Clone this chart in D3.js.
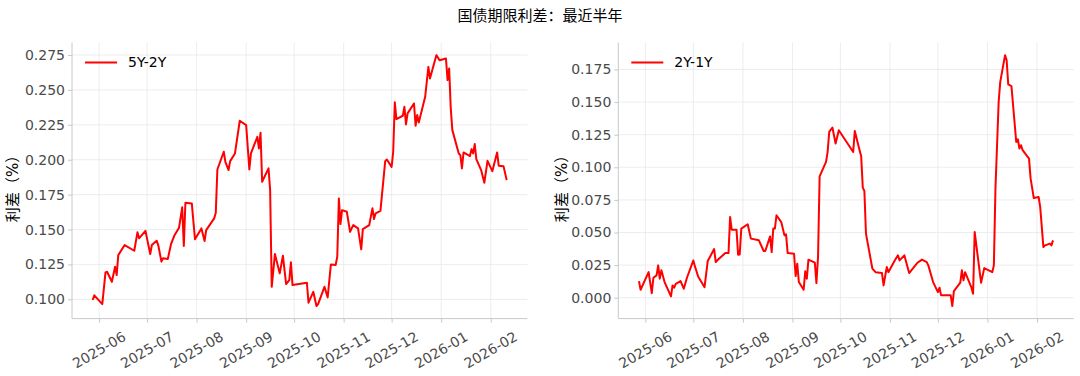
<!DOCTYPE html>
<html lang="zh">
<head>
<meta charset="UTF-8">
<title>国债期限利差：最近半年</title>
<style>
  body { margin: 0; background: #fff; }
  svg text { font-family: "DejaVu Sans", "Noto Sans CJK SC", sans-serif; }
  .grid line { stroke: #e8e8e8; stroke-width: 0.8; }
  .spine { stroke: #c8c8c8; stroke-width: 1; }
  .tick line { stroke: #c8c8c8; }
  .tick-label { fill: #4a4a4a; font-size: 14px; }
</style>
</head>
<body>
<div id="chart"></div>
<script src="https://d3js.org/d3.v7.min.js"></script>
<script>
// 5Y-2Y 利差
const dates5y2y = ["2025-05-28","2025-05-29","2025-06-03","2025-06-05","2025-06-06","2025-06-09","2025-06-11","2025-06-12","2025-06-13","2025-06-17",
  "2025-06-23","2025-06-25","2025-06-26","2025-06-30","2025-07-03","2025-07-04","2025-07-07","2025-07-08","2025-07-10","2025-07-11",
  "2025-07-14","2025-07-16","2025-07-18","2025-07-21","2025-07-23","2025-07-24","2025-07-25","2025-07-29","2025-07-31","2025-08-04",
  "2025-08-06","2025-08-07","2025-08-12","2025-08-13","2025-08-14","2025-08-18","2025-08-19","2025-08-21","2025-08-22","2025-08-25",
  "2025-08-28","2025-09-01","2025-09-03","2025-09-04","2025-09-08","2025-09-09","2025-09-10","2025-09-11","2025-09-15","2025-09-16",
  "2025-09-17","2025-09-19","2025-09-22","2025-09-24","2025-09-26","2025-09-28","2025-09-29","2025-09-30","2025-10-09","2025-10-10",
  "2025-10-13","2025-10-15","2025-10-16","2025-10-20","2025-10-22","2025-10-24","2025-10-27","2025-10-28","2025-10-29","2025-10-30",
  "2025-10-31","2025-11-03","2025-11-05","2025-11-07","2025-11-10","2025-11-12","2025-11-13","2025-11-17","2025-11-19","2025-11-20",
  "2025-11-21","2025-11-24","2025-11-27","2025-11-28","2025-12-01","2025-12-02","2025-12-03","2025-12-04","2025-12-08","2025-12-09",
  "2025-12-10","2025-12-11","2025-12-15","2025-12-16","2025-12-17","2025-12-18","2025-12-22","2025-12-24","2025-12-25","2025-12-29",
  "2025-12-31","2026-01-04","2026-01-05","2026-01-06","2026-01-07","2026-01-08","2026-01-12","2026-01-13","2026-01-14","2026-01-15",
  "2026-01-19","2026-01-20","2026-01-21","2026-01-22","2026-01-23","2026-01-26","2026-01-28","2026-01-30","2026-02-02","2026-02-05",
  "2026-02-06","2026-02-09","2026-02-11"];
const values5y2y = [0.0995,0.1029,0.0966,0.1193,0.1198,0.1126,0.1233,0.1174,0.1317,0.1389,
  0.1348,0.1480,0.1437,0.1491,0.1324,0.1389,0.1420,0.1389,0.1270,0.1294,
  0.1289,0.1396,0.1455,0.1513,0.1659,0.1382,0.1692,0.1687,0.1430,0.1508,
  0.1418,0.1496,0.1580,0.1620,0.1930,0.2057,0.1985,0.1926,0.1990,0.2045,
  0.2279,0.2248,0.1930,0.2045,0.2164,0.2081,0.2193,0.1842,0.1938,0.1783,
  0.1090,0.1324,0.1186,0.1312,0.1110,0.1138,0.1265,0.1102,0.1119,0.0976,
  0.1054,0.0952,0.0966,0.1090,0.1014,0.1250,0.1246,0.1305,0.1723,0.1539,
  0.1639,0.1627,0.1484,0.1532,0.1508,0.1358,0.1503,0.1532,0.1652,0.1575,
  0.1616,0.1634,0.1990,0.2002,0.1949,0.2057,0.2411,0.2291,0.2315,0.2379,
  0.2253,0.2332,0.2403,0.2243,0.2320,0.2267,0.2451,0.2665,0.2582,0.2749,
  0.2713,0.2725,0.2570,0.2654,0.2368,0.2212,0.2045,0.2033,0.1938,0.2052,
  0.2026,0.2076,0.2045,0.2112,0.2004,0.1926,0.1835,0.1992,0.1918,0.2052,
  0.1957,0.1954,0.1854];

// 2Y-1Y 利差
const dates2y1y = ["2025-05-28","2025-05-29","2025-06-03","2025-06-05","2025-06-06","2025-06-08","2025-06-09","2025-06-10","2025-06-11","2025-06-13",
  "2025-06-17","2025-06-18","2025-06-19","2025-06-20","2025-06-23","2025-06-25","2025-06-27","2025-07-01","2025-07-02","2025-07-04",
  "2025-07-08","2025-07-10","2025-07-14","2025-07-15","2025-07-17","2025-07-21","2025-07-23","2025-07-24","2025-07-25","2025-07-28",
  "2025-07-29","2025-07-30","2025-07-31","2025-08-04","2025-08-06","2025-08-11","2025-08-14","2025-08-15","2025-08-18","2025-08-19",
  "2025-08-20","2025-08-21","2025-08-22","2025-08-25","2025-08-27","2025-08-28","2025-08-29","2025-09-02","2025-09-03","2025-09-04",
  "2025-09-05","2025-09-08","2025-09-09","2025-09-10","2025-09-11","2025-09-15","2025-09-16","2025-09-17","2025-09-18","2025-09-22",
  "2025-09-23","2025-09-24","2025-09-26","2025-09-28","2025-09-30","2025-10-09","2025-10-10","2025-10-13","2025-10-14","2025-10-15",
  "2025-10-16","2025-10-17","2025-10-21","2025-10-23","2025-10-27","2025-10-28","2025-10-30","2025-10-31","2025-11-04","2025-11-06",
  "2025-11-07","2025-11-10","2025-11-13","2025-11-18","2025-11-21","2025-11-24","2025-11-25","2025-11-28","2025-12-01","2025-12-02",
  "2025-12-03","2025-12-09","2025-12-10","2025-12-11","2025-12-15","2025-12-16","2025-12-17","2025-12-18","2025-12-22","2025-12-23",
  "2025-12-24","2025-12-28","2025-12-30","2026-01-04","2026-01-05","2026-01-06","2026-01-08","2026-01-09","2026-01-12","2026-01-13",
  "2026-01-14","2026-01-16","2026-01-19","2026-01-20","2026-01-21","2026-01-22","2026-01-23","2026-01-27","2026-01-28","2026-01-30",
  "2026-02-02","2026-02-03","2026-02-05","2026-02-06","2026-02-09","2026-02-10","2026-02-11"];
const values2y1y = [0.0127,0.0061,0.0196,0.0035,0.0153,0.0171,0.0248,0.0146,0.0210,0.0120,
  0.0010,0.0094,0.0077,0.0107,0.0127,0.0069,0.0153,0.0286,0.0240,0.0163,
  0.0081,0.0281,0.0373,0.0273,0.0299,0.0342,0.0342,0.0619,0.0522,0.0522,
  0.0330,0.0332,0.0530,0.0563,0.0453,0.0440,0.0358,0.0358,0.0470,0.0350,
  0.0530,0.0530,0.0632,0.0580,0.0478,0.0486,0.0342,0.0338,0.0166,0.0261,
  0.0120,0.0061,0.0202,0.0146,0.0292,0.0269,0.0112,0.0312,0.0931,0.1041,
  0.1117,0.1271,0.1305,0.1182,0.1284,0.1117,0.1279,0.1131,0.1084,0.0844,
  0.0818,0.0491,0.0223,0.0196,0.0189,0.0094,0.0235,0.0196,0.0286,0.0325,
  0.0286,0.0325,0.0189,0.0266,0.0292,0.0273,0.0248,0.0120,0.0043,0.0077,
  0.0018,0.0018,-0.0064,0.0051,0.0115,0.0210,0.0133,0.0196,0.0077,0.0031,
  0.0504,0.0115,0.0227,0.0196,0.0248,0.0837,0.1501,0.1655,0.1860,0.1821,
  0.1635,0.1622,0.1194,0.1215,0.1144,0.1169,0.1131,0.1067,0.0913,0.0764,
  0.0772,0.0695,0.0388,0.0401,0.0415,0.0401,0.0440];

const monthTicks = ["2025-06","2025-07","2025-08","2025-09","2025-10","2025-11","2025-12","2026-01","2026-02"];
const yTicks5y2y = [0.100,0.125,0.150,0.175,0.200,0.225,0.250,0.275];
const yTicks2y1y = [0.000,0.025,0.050,0.075,0.100,0.125,0.150,0.175];

const W = 1080, H = 376;
const plotTop = 42.6, plotBottom = 318.6;
const parse = d3.timeParse("%Y-%m-%d");
const parseMonth = d3.timeParse("%Y-%m");

const svg = d3.select("#chart").append("svg")
  .attr("width", W).attr("height", H);

svg.append("text")
  .attr("x", 540).attr("y", 21)
  .attr("text-anchor", "middle")
  .style("font-size", "15px").style("fill", "#000")
  .text("国债期限利差：最近半年");

function padded(ext) {
  const m = (ext[1] - ext[0]) * 0.05;
  return [ext[0] - m, ext[1] + m];
}

function panel(left, right, dates, values, yTicks, name, ylabelX) {
  const data = dates.map((d, i) => ({ date: parse(d), v: values[i] }));
  const tExt = d3.extent(data, d => d.date);
  const span = tExt[1] - tExt[0];
  const x = d3.scaleTime()
    .domain([new Date(+tExt[0] - span * 0.05), new Date(+tExt[1] + span * 0.05)])
    .range([left, right]);
  const y = d3.scaleLinear()
    .domain(padded(d3.extent(data, d => d.v)))
    .range([plotBottom, plotTop]);
  const xt = monthTicks.map(parseMonth);

  const g = svg.append("g");

  // 网格
  g.append("g").attr("class", "grid")
    .selectAll("line").data(xt).join("line")
    .attr("x1", d => x(d)).attr("x2", d => x(d))
    .attr("y1", plotTop).attr("y2", plotBottom);
  g.append("g").attr("class", "grid")
    .selectAll("line").data(yTicks).join("line")
    .attr("x1", left).attr("x2", right)
    .attr("y1", d => y(d)).attr("y2", d => y(d));

  // 轴
  const yAxis = g.append("g")
    .attr("transform", `translate(${left},0)`)
    .call(d3.axisLeft(y).tickValues(yTicks).tickSize(4).tickPadding(3).tickFormat(d3.format(".3f")));
  yAxis.select(".domain").remove();
  yAxis.selectAll("text").attr("class", "tick-label").attr("font-family", null).attr("font-size", null);

  const xAxis = g.append("g")
    .attr("transform", `translate(0,${plotBottom})`)
    .call(d3.axisBottom(x).tickValues(xt).tickSize(4).tickFormat(() => ""));
  xAxis.select(".domain").remove();

  g.append("g").selectAll("text").data(xt).join("text")
    .attr("class", "tick-label")
    .attr("transform", d => `translate(${x(d)},350) rotate(-30)`)
    .attr("text-anchor", "middle")
    .attr("dy", "0.35em")
    .text(d3.timeFormat("%Y-%m"));

  g.append("line").attr("class", "spine")
    .attr("x1", left).attr("x2", left).attr("y1", plotTop).attr("y2", plotBottom);
  g.append("line").attr("class", "spine")
    .attr("x1", left).attr("x2", right).attr("y1", plotBottom).attr("y2", plotBottom);

  // 数据线
  g.append("path").datum(data)
    .attr("fill", "none")
    .attr("stroke", "#ff0000")
    .attr("stroke-width", 2)
    .attr("stroke-linejoin", "round")
    .attr("d", d3.line().x(d => x(d.date)).y(d => y(d.v)));

  // 图例
  g.append("line")
    .attr("x1", left + 13).attr("x2", left + 45)
    .attr("y1", 62.5).attr("y2", 62.5)
    .attr("stroke", "#ff0000").attr("stroke-width", 2);
  g.append("text")
    .attr("x", left + 56).attr("y", 62.5).attr("dy", "0.35em")
    .style("font-size", "14px").style("fill", "#000")
    .text(name);

  g.append("text")
    .attr("transform", `translate(${ylabelX},185) rotate(-90)`)
    .attr("text-anchor", "middle").attr("dy", "0.35em")
    .style("font-size", "15px").style("fill", "#000")
    .text("利差（%）");
}

panel(72, 527.4, dates5y2y, values5y2y, yTicks5y2y, "5Y-2Y", 13);
panel(618.3, 1073.7, dates2y1y, values2y1y, yTicks2y1y, "2Y-1Y", 561.7);
</script>
</body>
</html>
